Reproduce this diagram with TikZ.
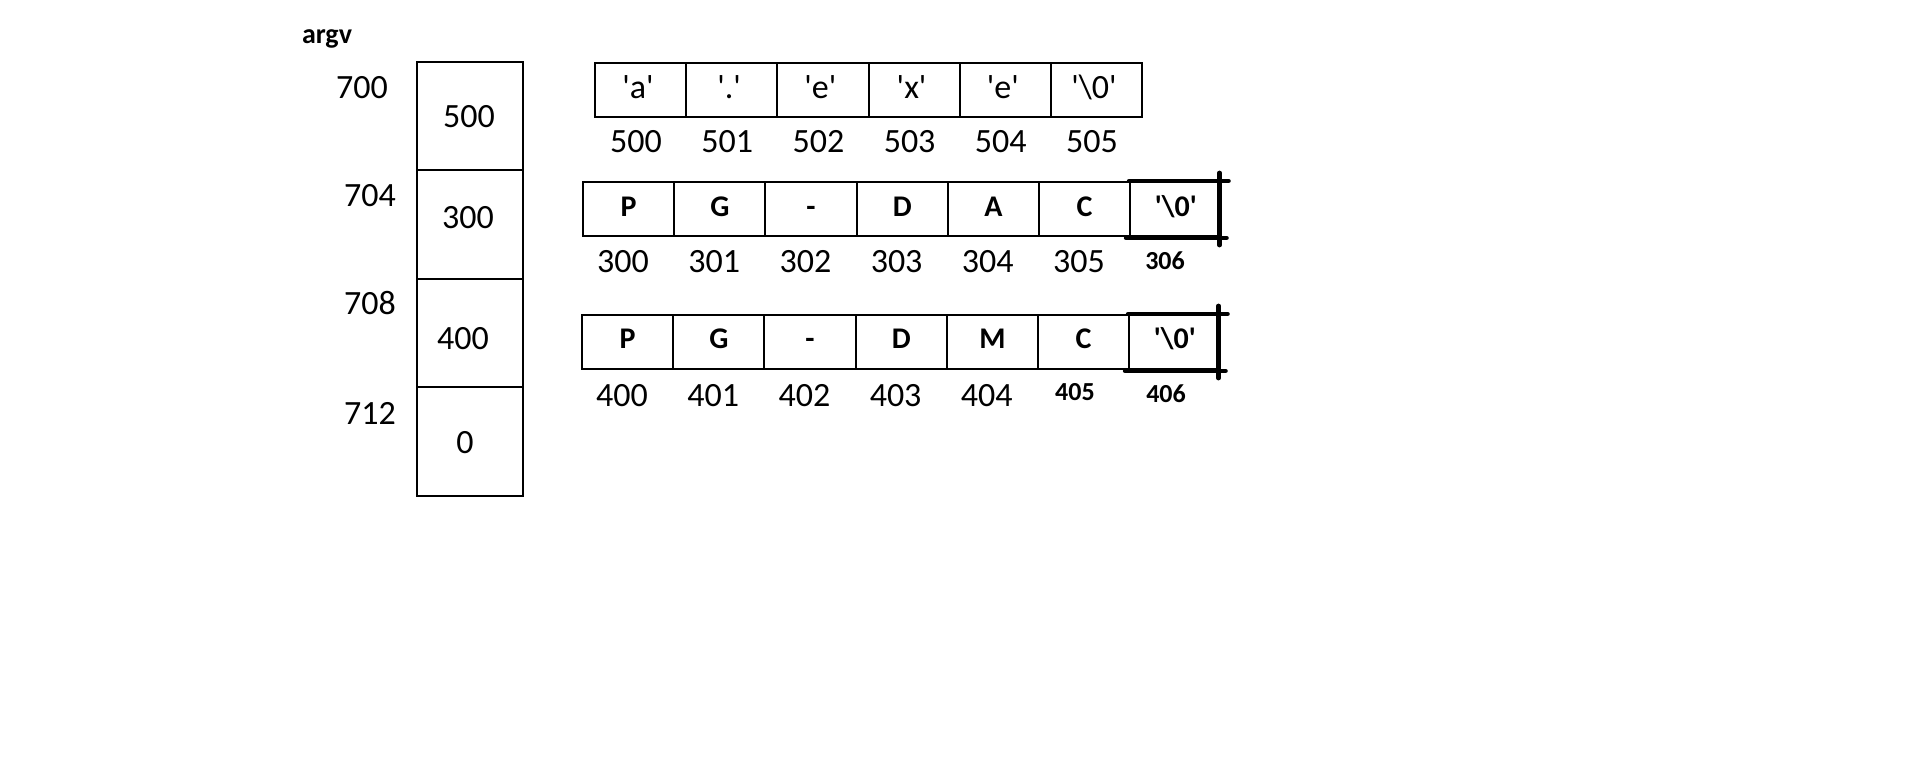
\documentclass[tikz,border=0pt]{standalone}
\usepackage{fontspec}
\newfontfamily\cf{Carlito}
\newcommand{\qs}{\char39\relax}
\newcommand{\nul}{\qs\textbackslash 0\qs}
\begin{document}
\begin{tikzpicture}[x=0.5pt,y=-0.5pt,
  cell/.style={draw,line width=1pt,inner sep=0pt,minimum width=45.6pt,minimum height=27pt},
  pcell/.style={draw,line width=1pt,inner sep=0pt,minimum width=53pt,minimum height=54.25pt},
  num/.style={inner sep=0pt,anchor=base,font=\cf\fontsize{17}{20}\selectfont},
  blet/.style={inner sep=0pt,anchor=base,font=\cf\bfseries\fontsize{15}{18}\selectfont},
  bnum/.style={inner sep=0pt,anchor=base,font=\cf\bfseries\fontsize{13}{16}\selectfont},
  thickln/.style={line width=2.4pt,line cap=round}]
\useasboundingbox (0,0) rectangle (1910,772);

% argv label
\node[inner sep=0pt,anchor=base,font=\cf\bfseries\fontsize{14}{17}\selectfont] (argv) at (327,43) {argv};

% pointer column
\node[pcell] (p0) at (470,116) {};
\node[pcell] (p1) at (470,224.5) {};
\node[pcell] (p2) at (470,333) {};
\node[pcell] (p3) at (470,441.5) {};
\node[num] (v0) at (469,127) {500};
\node[num] (v1) at (468,228) {300};
\node[num] (v2) at (463,349) {400};
\node[num] (v3) at (465,453) {0};
\node[num] (ad0) at (362,98) {700};
\node[num] (ad1) at (370,206) {704};
\node[num] (ad2) at (370,314) {708};
\node[num] (ad3) at (370,424) {712};

% row 1: "a.exe"
\foreach \t [count=\i from 0] in {{\qs a\qs},{\qs.\qs},{\qs e\qs},{\qs x\qs},{\qs e\qs},{\nul}}{
  \node[cell] (a\i) at (640.6+91.2*\i,89.5) {};
  \node[num] (at\i) at (638+91.2*\i,98) {\t};
}
\foreach \t [count=\i from 0] in {500,501,502,503,504,505}{
  \node[num] (la\i) at (636+91.2*\i,152) {\t};
}

% row 2: "PG-DAC"
\foreach \t [count=\i from 0] in {P,G,-,D,A,C,{\nul}}{
  \node[cell] (b\i) at (628.6+91.2*\i,209) {};
  \node[blet] (bt\i) at (628.6+91.2*\i,216) {\t};
}
\foreach \t [count=\i from 0] in {300,301,302,303,304,305}{
  \node[num] (lb\i) at (623+91.2*\i,272) {\t};
}
\node[bnum] (lb6) at (1165,269) {306};
\draw[thickln] (b6.north west) -- ([xshift=3pt]b6.north east);
\draw[thickln] ([xshift=-1.5pt,yshift=4pt]b6.north east) -- ([xshift=-1.5pt,yshift=-4pt]b6.south east);
\draw[thickln] ([xshift=-1.5pt,yshift=-0.5pt]b6.south west) -- ([xshift=2pt,yshift=-0.5pt]b6.south east);

% row 3: "PG-DMC"
\foreach \t [count=\i from 0] in {P,G,-,D,M,C,{\nul}}{
  \node[cell] (c\i) at (627.6+91.2*\i,342) {};
  \node[blet] (ct\i) at (627.6+91.2*\i,348) {\t};
}
\foreach \t [count=\i from 0] in {400,401,402,403,404}{
  \node[num] (lc\i) at (622+91.2*\i,406) {\t};
}
\node[bnum] (lc5) at (1075,400) {405};
\node[bnum] (lc6) at (1166,402) {406};
\draw[thickln] (c6.north west) -- ([xshift=3pt]c6.north east);
\draw[thickln] ([xshift=-1.5pt,yshift=4pt]c6.north east) -- ([xshift=-1.5pt,yshift=-4pt]c6.south east);
\draw[thickln] ([xshift=-1.5pt,yshift=-0.5pt]c6.south west) -- ([xshift=2pt,yshift=-0.5pt]c6.south east);
\end{tikzpicture}
\end{document}
